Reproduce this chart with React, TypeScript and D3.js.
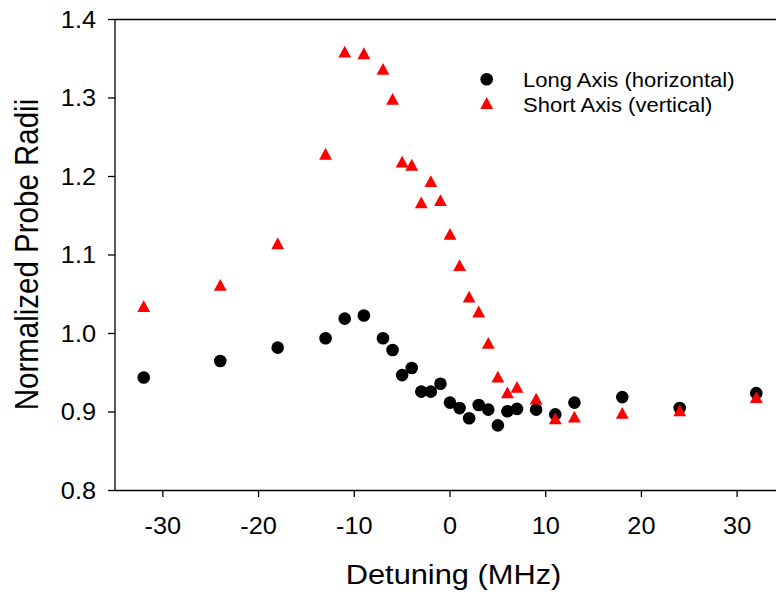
import React from "react";
import * as d3 from "d3";

const longX = [-32, -24, -18, -13, -11, -9, -7, -6, -5, -4, -3, -2, -1, 0, 1, 2, 3, 4, 5, 6, 7, 9, 11, 13, 18, 24, 32];
const longY = [0.944, 0.965, 0.982, 0.994, 1.019, 1.023, 0.994, 0.979, 0.947, 0.956, 0.926, 0.926, 0.936, 0.912, 0.905, 0.892, 0.909, 0.903, 0.883, 0.901, 0.904, 0.903, 0.897, 0.912, 0.919, 0.905, 0.924];
const shortX = [-32, -24, -18, -13, -11, -9, -7, -6, -5, -4, -3, -2, -1, 0, 1, 2, 3, 4, 5, 6, 7, 9, 11, 13, 18, 24, 32];
const shortY = [1.035, 1.062, 1.115, 1.229, 1.359, 1.357, 1.337, 1.299, 1.219, 1.215, 1.167, 1.194, 1.170, 1.127, 1.087, 1.047, 1.028, 0.988, 0.945, 0.925, 0.932, 0.917, 0.892, 0.894, 0.899, 0.902, 0.919];
const xTicks = [-30, -20, -10, 0, 10, 20, 30];
const yTicks = [0.8, 0.9, 1.0, 1.1, 1.2, 1.3, 1.4];
const seriesNames = ["Long Axis (horizontal)", "Short Axis (vertical)"];
const xTitle = "Detuning (MHz)";
const yTitle = "Normalized Probe Radii";

const W = 776;
const H = 592;
const FONT = "'Liberation Sans', Arial, Helvetica, sans-serif";
const SX = 1.1;

const x = d3.scaleLinear().domain([-35, 35]).range([115, 785]);
const y = d3.scaleLinear().domain([0.8, 1.4]).range([490.5, 19.5]);

const triPath = (cx: number, cy: number) => {
  const w = 12.8, h = 11.8;
  const p = d3.path();
  p.moveTo(cx, cy - h / 2);
  p.lineTo(cx + w / 2, cy + h / 2);
  p.lineTo(cx - w / 2, cy + h / 2);
  p.closePath();
  return p.toString();
};

const SText = ({ x: tx, y: ty, anchor, size, children, rotate }: any) => (
  <text
    transform={`translate(${tx},${ty}) scale(${SX},1)${rotate ? ` rotate(${rotate})` : ""}`}
    textAnchor={anchor}
    fontFamily={FONT}
    fontSize={size}
    fill="#000"
  >
    {children}
  </text>
);

export default function App() {
  const [x0, x1] = x.range();
  const [y0, y1] = y.range();
  return (
    <svg width={W} height={H} style={{ position: "absolute", left: 0, top: 0, background: "#fff" }}>
      <rect x={0} y={0} width={W} height={H} fill="#fff" />
      {/* frame */}
      <g stroke="#000" strokeWidth={1.3} fill="none">
        <line x1={x0} x2={x0} y1={y1} y2={y0} />
        <line x1={x0} x2={x1} y1={y0} y2={y0} />
        <line x1={x0} x2={x1} y1={y1} y2={y1} />
        {yTicks.map((t) => (
          <line key={"yt" + t} x1={x0 - 7} x2={x0} y1={y(t)} y2={y(t)} />
        ))}
        {xTicks.map((t) => (
          <line key={"xt" + t} x1={x(t)} x2={x(t)} y1={y0} y2={y0 + 6.5} />
        ))}
      </g>
      {yTicks.map((t) => (
        <SText key={"yl" + t} x={96} y={y(t) + 8.2} anchor="end" size={23}>
          {d3.format(".1f")(t)}
        </SText>
      ))}
      {xTicks.map((t) => (
        <SText key={"xl" + t} x={x(t)} y={533.5} anchor="middle" size={23}>
          {String(t)}
        </SText>
      ))}
      <SText x={453.5} y={583.5} anchor="middle" size={28}>
        {xTitle}
      </SText>
      <SText x={37.5} y={254.5} anchor="middle" size={29.5} rotate={-90}>
        {yTitle}
      </SText>
      {/* data */}
      <g fill="#000">
        {longX.map((v, i) => (
          <circle key={"c" + i} cx={x(v)} cy={y(longY[i])} r={6.3} />
        ))}
      </g>
      <g fill="#ff0000">
        {shortX.map((v, i) => (
          <path key={"t" + i} d={triPath(x(v), y(shortY[i]))} />
        ))}
      </g>
      {/* legend */}
      <circle cx={486.7} cy={79.3} r={6.3} fill="#000" />
      <path d={triPath(486.7, 103)} fill="#ff0000" />
      <SText x={523} y={86.7} anchor="start" size={20}>
        {seriesNames[0]}
      </SText>
      <SText x={523} y={111.5} anchor="start" size={20}>
        {seriesNames[1]}
      </SText>
    </svg>
  );
}
